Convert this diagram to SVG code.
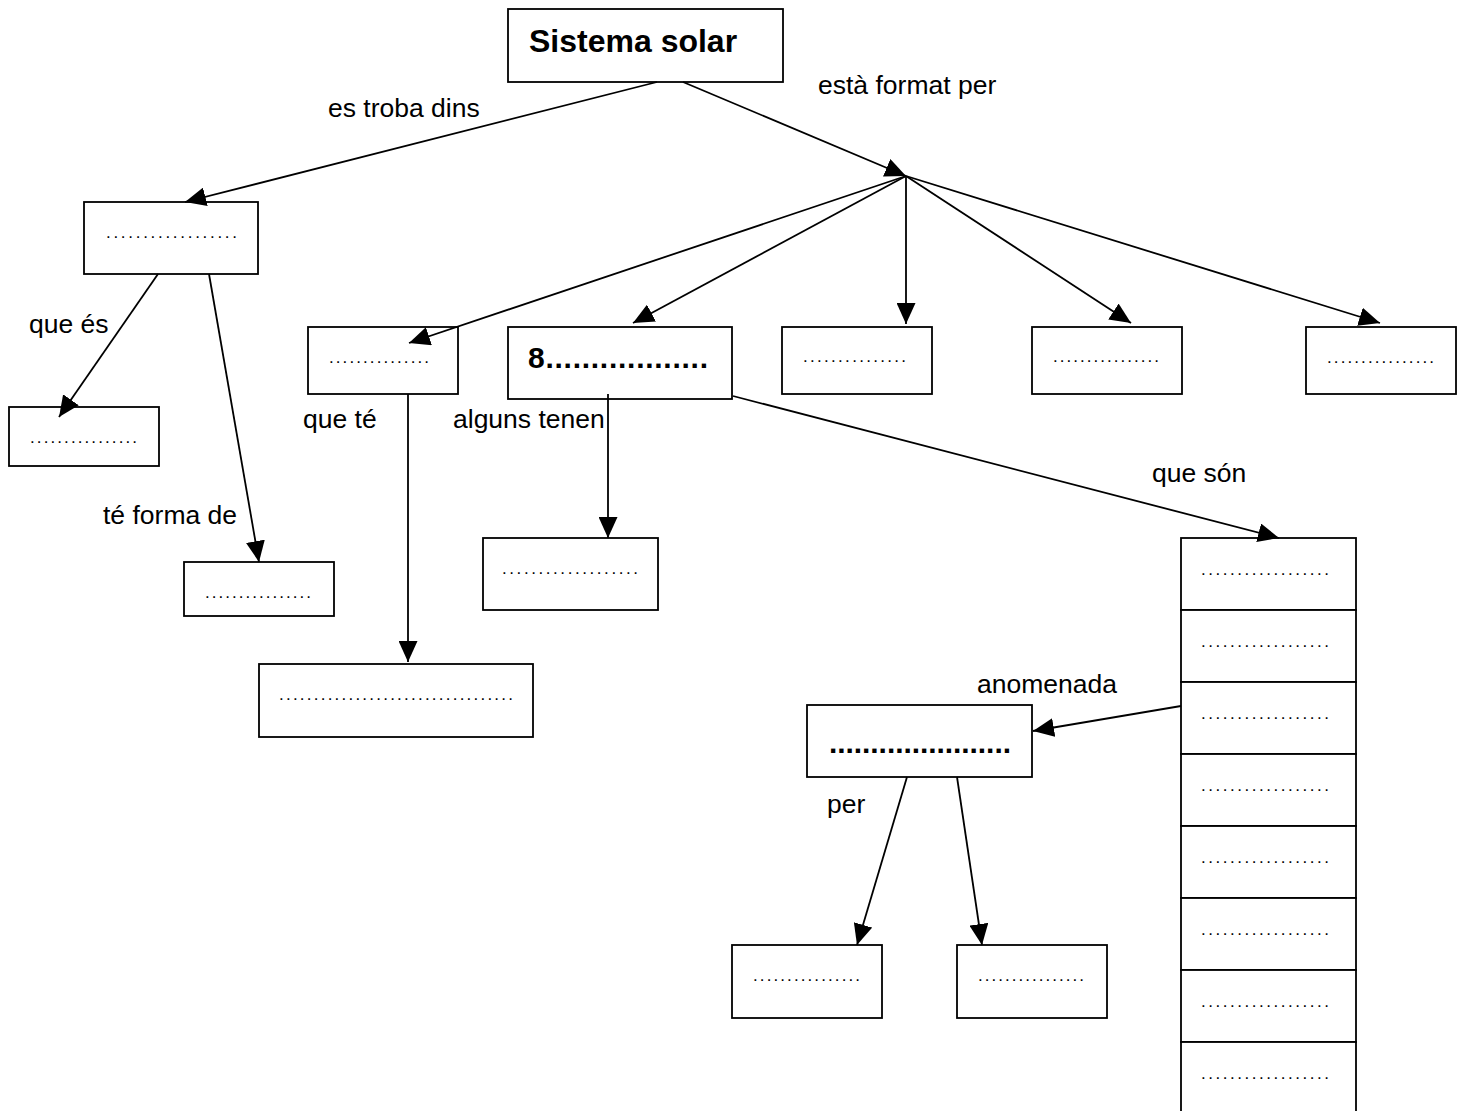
<svg xmlns="http://www.w3.org/2000/svg" width="1468" height="1111" viewBox="0 0 1468 1111">
<style>
.box{fill:#fff;stroke:#000;stroke-width:1.8}
.lbl{font-family:"Liberation Sans",Arial,sans-serif;font-size:26.5px;fill:#000}
.title{font-family:"Liberation Sans",Arial,sans-serif;font-size:32px;font-weight:bold;fill:#000}
.bdots{font-family:"Liberation Sans",Arial,sans-serif;font-size:30px;font-weight:bold;fill:#000}
.dots{font-family:"Liberation Sans",Arial,sans-serif;font-size:17px;fill:#000}
.con line{stroke:#000;stroke-width:1.8;marker-end:url(#ah)}
</style>
<defs>
<marker id="ah" viewBox="0 0 21 19" refX="21" refY="9.5" markerWidth="21" markerHeight="19" markerUnits="userSpaceOnUse" orient="auto">
<path d="M0,0 L21,9.5 L0,19 z" fill="#000"/>
</marker>
</defs>
<rect width="1468" height="1111" fill="#fff"/>

<g id="node-sistema">
<rect class="box" x="508" y="9" width="275" height="73"/>
<text class="title" x="529" y="52">Sistema solar</text>
</g>
<g id="node-a">
<rect class="box" x="84" y="202" width="174" height="72"/>
<text class="dots" x="106" y="238" textLength="131" lengthAdjust="spacing">..................</text>
</g>
<g id="node-b">
<rect class="box" x="9" y="407" width="150" height="59"/>
<text class="dots" x="30" y="443" textLength="107" lengthAdjust="spacing">................</text>
</g>
<g id="node-c">
<rect class="box" x="308" y="327" width="150" height="67"/>
<text class="dots" x="329" y="363" textLength="100" lengthAdjust="spacing">...............</text>
</g>
<g id="node-8">
<rect class="box" x="508" y="327" width="224" height="72"/>
<text class="bdots" x="528" y="368" textLength="180" lengthAdjust="spacing">8..................</text>
</g>
<g id="node-d">
<rect class="box" x="782" y="327" width="150" height="67"/>
<text class="dots" x="803" y="362" textLength="103" lengthAdjust="spacing">...............</text>
</g>
<g id="node-e">
<rect class="box" x="1032" y="327" width="150" height="67"/>
<text class="dots" x="1053" y="362" textLength="106" lengthAdjust="spacing">................</text>
</g>
<g id="node-f">
<rect class="box" x="1306" y="327" width="150" height="67"/>
<text class="dots" x="1327" y="363" textLength="107" lengthAdjust="spacing">................</text>
</g>
<g id="node-g">
<rect class="box" x="483" y="538" width="175" height="72"/>
<text class="dots" x="502" y="574" textLength="136" lengthAdjust="spacing">...................</text>
</g>
<g id="node-h">
<rect class="box" x="184" y="562" width="150" height="54"/>
<text class="dots" x="205" y="598" textLength="106" lengthAdjust="spacing">................</text>
</g>
<g id="node-i">
<rect class="box" x="259" y="664" width="274" height="73"/>
<text class="dots" x="279" y="700" textLength="234" lengthAdjust="spacing">..................................</text>
</g>
<g id="node-j">
<rect class="box" x="807" y="705" width="225" height="72"/>
<text class="bdots" x="829" y="753" textLength="182" lengthAdjust="spacing">......................</text>
</g>
<g id="node-k">
<rect class="box" x="732" y="945" width="150" height="73"/>
<text class="dots" x="753" y="981" textLength="107" lengthAdjust="spacing">................</text>
</g>
<g id="node-l">
<rect class="box" x="957" y="945" width="150" height="73"/>
<text class="dots" x="978" y="981" textLength="106" lengthAdjust="spacing">................</text>
</g>
<g id="node-list">
<rect class="box" x="1181" y="538" width="175" height="72"/>
<rect class="box" x="1181" y="610" width="175" height="72"/>
<rect class="box" x="1181" y="682" width="175" height="72"/>
<rect class="box" x="1181" y="754" width="175" height="72"/>
<rect class="box" x="1181" y="826" width="175" height="72"/>
<rect class="box" x="1181" y="898" width="175" height="72"/>
<rect class="box" x="1181" y="970" width="175" height="72"/>
<rect class="box" x="1181" y="1042" width="175" height="72"/>
<text class="dots" x="1201" y="575" textLength="128" lengthAdjust="spacing">..................</text>
<text class="dots" x="1201" y="647" textLength="128" lengthAdjust="spacing">..................</text>
<text class="dots" x="1201" y="719" textLength="128" lengthAdjust="spacing">..................</text>
<text class="dots" x="1201" y="791" textLength="128" lengthAdjust="spacing">..................</text>
<text class="dots" x="1201" y="863" textLength="128" lengthAdjust="spacing">..................</text>
<text class="dots" x="1201" y="935" textLength="128" lengthAdjust="spacing">..................</text>
<text class="dots" x="1201" y="1007" textLength="128" lengthAdjust="spacing">..................</text>
<text class="dots" x="1201" y="1079" textLength="128" lengthAdjust="spacing">..................</text>
</g>

<g id="connectors" class="con">
<line x1="657" y1="82" x2="185" y2="202"/>
<line x1="683" y1="82" x2="906" y2="176"/>
<line x1="906" y1="176" x2="409" y2="343"/>
<line x1="906" y1="176" x2="633" y2="323"/>
<line x1="906" y1="176" x2="906" y2="324"/>
<line x1="906" y1="176" x2="1131" y2="323"/>
<line x1="906" y1="176" x2="1380" y2="323"/>
<line x1="158" y1="274" x2="59" y2="417"/>
<line x1="209" y1="274" x2="259" y2="562"/>
<line x1="408" y1="394" x2="408" y2="662"/>
<line x1="608" y1="394" x2="608" y2="538"/>
<line x1="733" y1="396" x2="1279" y2="538"/>
<line x1="1181" y1="706" x2="1033" y2="731"/>
<line x1="907" y1="777" x2="857" y2="945"/>
<line x1="957" y1="777" x2="982" y2="945"/>
</g>

<g id="labels">
<text class="lbl" x="328" y="117">es troba dins</text>
<text class="lbl" x="818" y="94">està format per</text>
<text class="lbl" x="29" y="333">que és</text>
<text class="lbl" x="303" y="428">que té</text>
<text class="lbl" x="453" y="428">alguns tenen</text>
<text class="lbl" x="1152" y="482">que són</text>
<text class="lbl" x="103" y="524">té forma de</text>
<text class="lbl" x="977" y="693">anomenada</text>
<text class="lbl" x="827" y="813">per</text>
</g>
</svg>
